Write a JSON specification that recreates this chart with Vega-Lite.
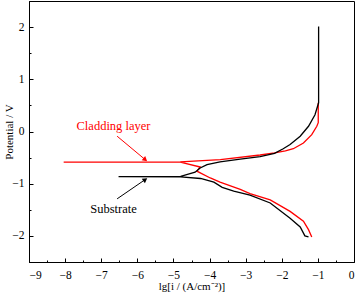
{
  "$schema": "https://vega.github.io/schema/vega-lite/v6.json",
  "width": 325,
  "height": 261,
  "autosize": {"type": "none"},
  "padding": {"left": 29, "top": 1, "right": 3, "bottom": 32},
  "background": "white",
  "config": {
    "view": {"stroke": "black", "strokeWidth": 1},
    "font": "Liberation Serif",
    "axis": {
      "grid": false,
      "domainColor": "black",
      "tickColor": "black",
      "labelColor": "black",
      "titleColor": "black",
      "labelFont": "Liberation Serif",
      "titleFont": "Liberation Serif",
      "labelFontSize": 11.5,
      "titleFontSize": 11,
      "titleFontWeight": "normal",
      "labelOverlap": false
    }
  },
  "resolve": {"axis": {"x": "independent", "y": "independent"}},
  "datasets": {
    "curves": [
      {"s": "Cladding layer", "i": 1, "x": -1.17, "y": -2.02},
      {"s": "Cladding layer", "i": 2, "x": -1.26, "y": -1.88},
      {"s": "Cladding layer", "i": 3, "x": -1.40, "y": -1.72},
      {"s": "Cladding layer", "i": 4, "x": -1.77, "y": -1.53},
      {"s": "Cladding layer", "i": 5, "x": -2.32, "y": -1.31},
      {"s": "Cladding layer", "i": 6, "x": -2.88, "y": -1.19},
      {"s": "Cladding layer", "i": 7, "x": -3.15, "y": -1.11},
      {"s": "Cladding layer", "i": 8, "x": -3.71, "y": -0.97},
      {"s": "Cladding layer", "i": 9, "x": -3.98, "y": -0.89},
      {"s": "Cladding layer", "i": 10, "x": -4.35, "y": -0.76},
      {"s": "Cladding layer", "i": 11, "x": -4.26, "y": -0.68},
      {"s": "Cladding layer", "i": 12, "x": -4.81, "y": -0.585},
      {"s": "Cladding layer", "i": 13, "x": -8.04, "y": -0.585},
      {"s": "Cladding layer", "i": 14, "x": -4.81, "y": -0.58},
      {"s": "Cladding layer", "i": 15, "x": -3.7, "y": -0.54},
      {"s": "Cladding layer", "i": 16, "x": -2.6, "y": -0.45},
      {"s": "Cladding layer", "i": 17, "x": -2.2, "y": -0.41},
      {"s": "Cladding layer", "i": 18, "x": -1.9, "y": -0.37},
      {"s": "Cladding layer", "i": 19, "x": -1.68, "y": -0.33},
      {"s": "Cladding layer", "i": 20, "x": -1.40, "y": -0.22},
      {"s": "Cladding layer", "i": 21, "x": -1.17, "y": -0.06},
      {"s": "Cladding layer", "i": 22, "x": -1.03, "y": 0.10},
      {"s": "Cladding layer", "i": 23, "x": -0.99, "y": 0.17},
      {"s": "Cladding layer", "i": 24, "x": -0.99, "y": 0.55},
      {"s": "Substrate", "i": 1, "x": -1.26, "y": -2.02},
      {"s": "Substrate", "i": 2, "x": -1.36, "y": -2.0},
      {"s": "Substrate", "i": 3, "x": -1.49, "y": -1.83},
      {"s": "Substrate", "i": 4, "x": -1.77, "y": -1.66},
      {"s": "Substrate", "i": 5, "x": -2.32, "y": -1.37},
      {"s": "Substrate", "i": 6, "x": -2.88, "y": -1.22},
      {"s": "Substrate", "i": 7, "x": -3.33, "y": -1.14},
      {"s": "Substrate", "i": 8, "x": -3.65, "y": -1.07},
      {"s": "Substrate", "i": 9, "x": -3.88, "y": -0.97},
      {"s": "Substrate", "i": 10, "x": -4.25, "y": -0.90},
      {"s": "Substrate", "i": 11, "x": -4.8, "y": -0.87},
      {"s": "Substrate", "i": 12, "x": -6.52, "y": -0.865},
      {"s": "Substrate", "i": 13, "x": -4.8, "y": -0.86},
      {"s": "Substrate", "i": 14, "x": -4.4, "y": -0.78},
      {"s": "Substrate", "i": 15, "x": -4.26, "y": -0.70},
      {"s": "Substrate", "i": 16, "x": -4.07, "y": -0.635},
      {"s": "Substrate", "i": 17, "x": -3.71, "y": -0.58},
      {"s": "Substrate", "i": 18, "x": -3.15, "y": -0.53},
      {"s": "Substrate", "i": 19, "x": -2.6, "y": -0.48},
      {"s": "Substrate", "i": 20, "x": -2.2, "y": -0.42},
      {"s": "Substrate", "i": 21, "x": -1.96, "y": -0.33},
      {"s": "Substrate", "i": 22, "x": -1.77, "y": -0.25},
      {"s": "Substrate", "i": 23, "x": -1.49, "y": -0.09},
      {"s": "Substrate", "i": 24, "x": -1.26, "y": 0.10},
      {"s": "Substrate", "i": 25, "x": -1.08, "y": 0.32},
      {"s": "Substrate", "i": 26, "x": -0.98, "y": 0.55},
      {"s": "Substrate", "i": 27, "x": -0.98, "y": 2.01}
    ],
    "arrows": [
      {"s": "Cladding layer", "x": -6.56, "y": -0.09, "x2": -5.78, "y2": -0.54, "ang": 130},
      {"s": "Substrate", "x": -6.56, "y": -1.29, "x2": -5.78, "y2": -0.92, "ang": 55}
    ],
    "labels": [
      {"s": "Cladding layer", "x": -6.66, "y": 0.1},
      {"s": "Substrate", "x": -6.66, "y": -1.48}
    ]
  },
  "layer": [
    {
      "data": {"name": "curves"},
      "mark": {"type": "line", "strokeWidth": 1.3},
      "encoding": {
        "x": {
          "field": "x", "type": "quantitative",
          "scale": {"domain": [-9, 0], "nice": false, "zero": false},
          "axis": {
            "orient": "bottom",
            "title": "lg[i / (A/cm⁻²)]",
            "values": [-9, -8, -7, -6, -5, -4, -3, -2, -1, 0],
            "tickSize": -4,
            "labelPadding": 11,
            "titlePadding": 0
          }
        },
        "y": {
          "field": "y", "type": "quantitative",
          "scale": {"domain": [-2.5, 2.5], "nice": false, "zero": false},
          "axis": {
            "orient": "left",
            "title": "Potential / V",
            "values": [-2, -1, 0, 1, 2],
            "tickSize": -4,
            "labelPadding": 9,
            "titlePadding": -3
          }
        },
        "detail": {"field": "s"},
        "order": {"field": "i", "type": "quantitative"},
        "color": {
          "field": "s", "type": "nominal",
          "scale": {"domain": ["Cladding layer", "Substrate"], "range": ["#ff0000", "#000000"]},
          "legend": null
        }
      }
    },
    {
      "data": {"name": "arrows"},
      "mark": {"type": "rule", "strokeWidth": 1},
      "encoding": {
        "x": {"field": "x", "type": "quantitative", "axis": null},
        "y": {"field": "y", "type": "quantitative", "axis": null},
        "x2": {"field": "x2"},
        "y2": {"field": "y2"},
        "color": {"field": "s", "type": "nominal", "legend": null}
      }
    },
    {
      "data": {"name": "arrows"},
      "mark": {"type": "point", "shape": "triangle-up", "filled": true, "size": 30, "opacity": 1},
      "encoding": {
        "x": {"field": "x2", "type": "quantitative", "axis": null},
        "y": {"field": "y2", "type": "quantitative", "axis": null},
        "angle": {"field": "ang", "type": "quantitative", "scale": null},
        "color": {"field": "s", "type": "nominal", "legend": null}
      }
    },
    {
      "data": {"name": "labels"},
      "mark": {"type": "text", "font": "Liberation Serif", "fontSize": 12.5, "align": "center", "baseline": "middle"},
      "encoding": {
        "x": {
          "field": "x", "type": "quantitative",
          "axis": {
            "orient": "bottom",
            "title": null,
            "labels": false,
            "domain": false,
            "values": [-8.5, -7.5, -6.5, -5.5, -4.5, -3.5, -2.5, -1.5, -0.5],
            "tickSize": -2
          }
        },
        "y": {
          "field": "y", "type": "quantitative",
          "axis": {
            "orient": "left",
            "title": null,
            "labels": false,
            "domain": false,
            "values": [-2.5, -1.5, -0.5, 0.5, 1.5, 2.5],
            "tickSize": -2
          }
        },
        "text": {"field": "s"},
        "color": {"field": "s", "type": "nominal", "legend": null}
      }
    }
  ]
}
